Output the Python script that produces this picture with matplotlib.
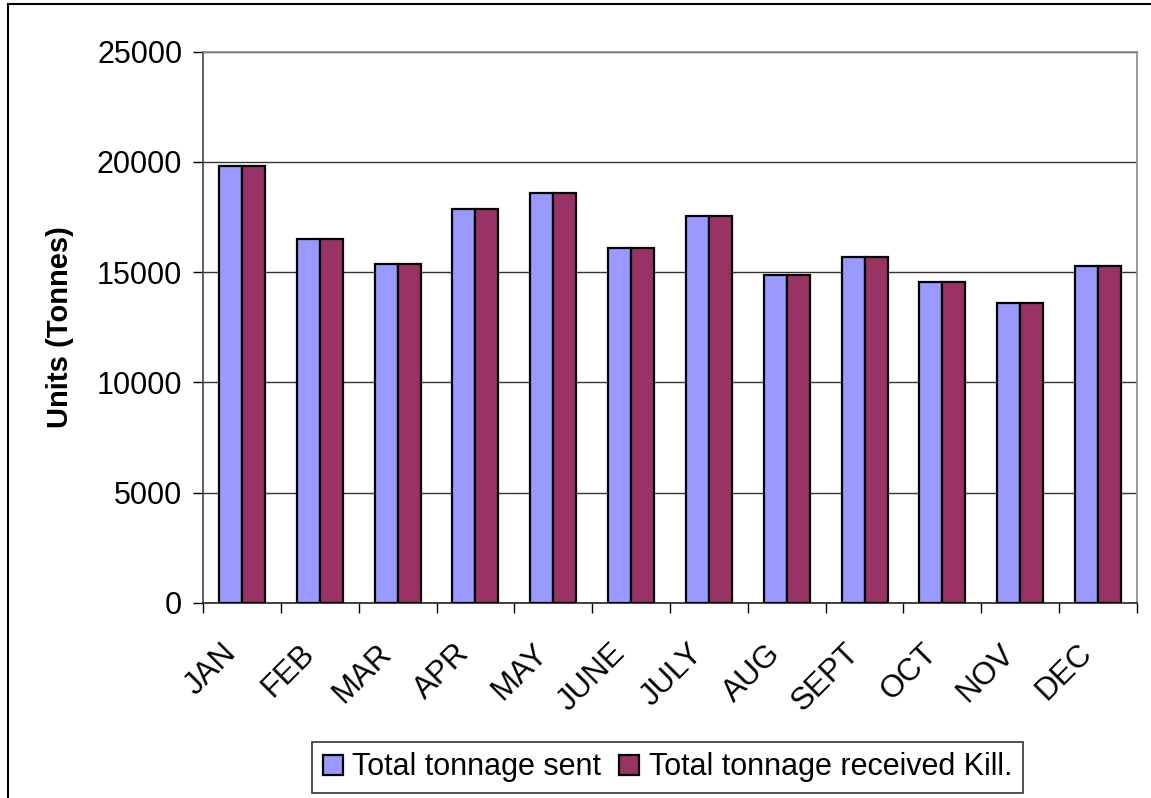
import numpy as np
import matplotlib.pyplot as plt
from matplotlib.patches import Rectangle
from matplotlib.transforms import ScaledTranslation

plt.rcParams['font.family'] = ['Liberation Sans', 'DejaVu Sans']

months = ["JAN", "FEB", "MAR", "APR", "MAY", "JUNE", "JULY", "AUG", "SEPT", "OCT", "NOV", "DEC"]
sent = [19800, 16500, 15370, 17850, 18580, 16100, 17530, 14860, 15680, 14540, 13620, 15260]
received = [19800, 16500, 15370, 17850, 18580, 16100, 17530, 14860, 15680, 14540, 13620, 15260]
yticks = [0, 5000, 10000, 15000, 20000, 25000]

fig = plt.figure(figsize=(11.51, 7.98), dpi=100)
ax = fig.add_axes([203 / 1151, 1 - 603 / 798, (1137 - 203) / 1151, (603 - 51.7) / 798])

x = np.arange(len(months))
w = 0.295
ax.bar(x - w / 2, sent, w, color='#9999FF', edgecolor='black', linewidth=1.6,
       label='Total tonnage sent', zorder=3)
ax.bar(x + w / 2, received, w, color='#993366', edgecolor='black', linewidth=1.6,
       label='Total tonnage received Kill.', zorder=3)

ax.set_xlim(-0.5, len(months) - 0.5)
ax.set_ylim(0, 25000)
ax.set_yticks(yticks)
ax.set_yticklabels([str(v) for v in yticks], fontsize=22)
ax.tick_params(axis='y', direction='out', length=7, width=1, pad=8)
ax.grid(axis='y', color='#333333', linewidth=1, zorder=0)

ax.set_xticks(x)
ax.set_xticklabels(months, rotation=45, ha='right', rotation_mode='anchor', fontsize=22.5)
ax.tick_params(axis='x', which='major', length=0, pad=24)
shift = ScaledTranslation(-21 / 100, -2 / 100, fig.dpi_scale_trans)
for lbl in ax.get_xticklabels():
    lbl.set_transform(lbl.get_transform() + shift)
ax.set_xticks(np.arange(-0.5, len(months), 1), minor=True)
ax.tick_params(axis='x', which='minor', direction='out', length=7, width=1)

ax.spines['left'].set_color('#444444')
ax.spines['bottom'].set_color('#222222')
ax.spines['top'].set_color('#888888')
ax.spines['right'].set_color('#888888')
for s in ax.spines.values():
    s.set_linewidth(1.2)

ax.set_ylabel('Units (Tonnes)', fontsize=21, fontweight='bold', labelpad=16)

leg = fig.legend(loc='center', bbox_to_anchor=(667.5 / 1151, 1 - 767.5 / 798), ncol=2,
                 fontsize=22, frameon=True, fancybox=False, handlelength=0.65, handleheight=0.65,
                 handletextpad=0.3, columnspacing=0.6, borderpad=0.35)
leg.get_frame().set_edgecolor('black')
leg.get_frame().set_linewidth(1.2)

# outer chart border (clipped at right and bottom)
fig.patches.append(Rectangle((8 / 1151, -0.1), 1.2, 1.1 - 4 / 798, transform=fig.transFigure,
                             fill=False, edgecolor='black', linewidth=1.5))

fig.savefig('out.png', dpi=100)
